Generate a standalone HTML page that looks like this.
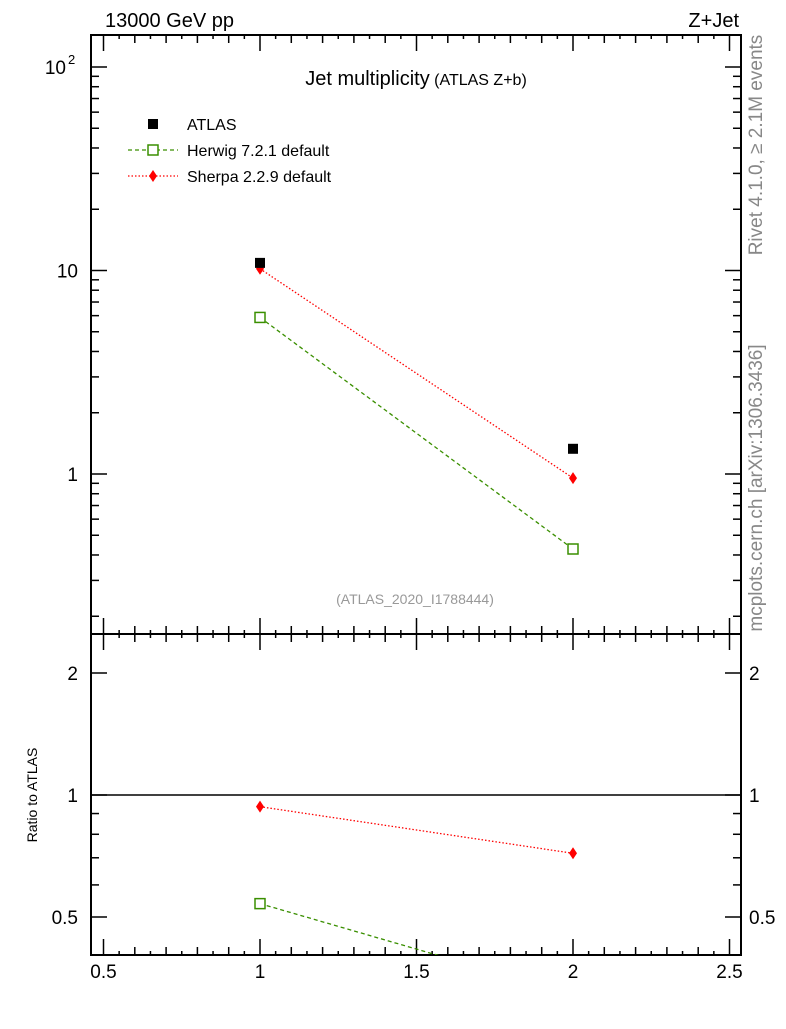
<!DOCTYPE html>
<html><head><meta charset="utf-8"><style>
body{margin:0;background:#fff}
svg text{font-family:"Liberation Sans",sans-serif}
</style></head><body>
<svg id="c" width="786" height="1024" xmlns="http://www.w3.org/2000/svg"></svg>
<script>
const categories=[1,2];
const atlasValues=[10.9,1.33];
const herwigValues=[5.88,0.428];
const sherpaValues=[10.2,0.955];
const xTickLabels=["0.5","1","1.5","2","2.5"];
const yMainTickLabels=["1","10"];
const yRatioTickLabels=["0.5","1","2"];

const NS="http://www.w3.org/2000/svg";
const svg=document.getElementById('c');
const L=91,R=741,T=35,M=634,B=955;
const X=v=>260+(v-1)*313;
const Y=v=>474-Math.log10(v)*203.5;
const YR=v=>795-Math.log2(v)*122;
function el(tag,a,parent){const e=document.createElementNS(NS,tag);for(const k in a)e.setAttribute(k,a[k]);(parent||svg).appendChild(e);return e;}
function txt(s,a){const t=el('text',a);t.textContent=s;return t;}

const defs=el('defs',{});
const c1=el('clipPath',{id:'cm'},defs);el('rect',{x:L,y:T,width:R-L,height:M-T},c1);
const c2=el('clipPath',{id:'cr'},defs);el('rect',{x:L,y:M,width:R-L,height:B-M},c2);

let f=el('rect',{x:L,y:T,width:R-L,height:M-T,fill:'none',stroke:'#000','stroke-width':2});


f=el('rect',{x:L,y:M,width:R-L,height:B-M,fill:'none',stroke:'#000','stroke-width':2});



for(let i=0;i<=40;i++){const v=0.5+i*0.05;const x=X(v);if(x<L||x>R)continue;
 const len=(i%10==0)?16:(i%2==0?8:4);
 for(const [y,d] of [[M,-1],[T,1],[M,1],[B,-1]]){el('line',{x1:x,x2:x,y1:y,y2:y+d*len,stroke:'#000','stroke-width':1.5});}
}
xTickLabels.forEach(s=>{const t=txt(s,{x:X(parseFloat(s)),y:978,'font-size':19,'text-anchor':'middle'});
 });

for(let e=-1;e<=2;e++)for(let m=1;m<=9;m++){const v=m*Math.pow(10,e);const y=Y(v);if(y<T||y>M)continue;
 const len=m==1?16:8;
 el('line',{x1:L,x2:L+len,y1:y,y2:y,stroke:'#000','stroke-width':1.5});
 el('line',{x1:R,x2:R-len,y1:y,y2:y,stroke:'#000','stroke-width':1.5});}
yMainTickLabels.forEach(s=>{const t=txt(s,{x:78,y:Y(parseFloat(s))+7,'font-size':19,'text-anchor':'end'});
 });
let t=txt('10',{x:66,y:Y(100)+7,'font-size':19,'text-anchor':'end'});

txt('2',{x:68,y:Y(100)-3,'font-size':13,'text-anchor':'start'});

for(let e=-1;e<=0;e++)for(let m=1;m<=9;m++){const v=m*Math.pow(10,e);const y=YR(v);if(y<M||y>B)continue;
 const len=(v==0.5||v==1||v==2)?16:8;
 el('line',{x1:L,x2:L+len,y1:y,y2:y,stroke:'#000','stroke-width':1.5});
 el('line',{x1:R,x2:R-len,y1:y,y2:y,stroke:'#000','stroke-width':1.5});}
yRatioTickLabels.forEach(s=>{const y=YR(parseFloat(s))+7;
 let a=txt(s,{x:78,y:y,'font-size':19,'text-anchor':'end'});
 
 a=txt(s,{x:749,y:y,'font-size':19,'text-anchor':'start'});
 });
el('line',{x1:L,x2:R,y1:YR(1),y2:YR(1),stroke:'#000','stroke-width':1.5});

t=txt('13000 GeV pp',{x:105,y:27,'font-size':20});
t=txt('Z+Jet',{x:739,y:27,'font-size':20,'text-anchor':'end'});
t=el('text',{x:416,y:85,'text-anchor':'middle'});t.innerHTML='<tspan font-size="20">Jet multiplicity</tspan><tspan font-size="16"> (ATLAS Z+b)</tspan>';

t=txt('(ATLAS_2020_I1788444)',{x:415,y:604,'font-size':14,fill:'#999','text-anchor':'middle'});
t=txt('Ratio to ATLAS',{x:0,y:0,'font-size':14,'text-anchor':'middle',transform:'translate(37,795) rotate(-90)'});
t=txt('Rivet 4.1.0, ≥ 2.1M events',{x:0,y:0,'font-size':19,fill:'#888','text-anchor':'middle',transform:'translate(762,145) rotate(-90)'});
t=txt('mcplots.cern.ch [arXiv:1306.3436]',{x:0,y:0,'font-size':19,fill:'#888','text-anchor':'middle',transform:'translate(762,488) rotate(-90)'});

let g=el('g',{});
el('rect',{x:148,y:119,width:10,height:10,fill:'#000'},g);
let lt=el('text',{x:187,y:130,'font-size':16},g);lt.textContent='ATLAS';
g=el('g',{});
el('line',{x1:128,x2:178,y1:150,y2:150,stroke:'#3a8f00','stroke-width':1.3,'stroke-dasharray':'4,3'},g);
el('rect',{x:148,y:145,width:10,height:10,fill:'#fff',stroke:'#3a8f00','stroke-width':1.5},g);
lt=el('text',{x:187,y:156,'font-size':16},g);lt.textContent='Herwig 7.2.1 default';
g=el('g',{});
el('line',{x1:128,x2:178,y1:176,y2:176,stroke:'#f00','stroke-width':1.3,'stroke-dasharray':'1.5,2'},g);
el('path',{d:'M153,170 L157,176 L153,182 L149,176Z',fill:'#f00'},g);
lt=el('text',{x:187,y:182,'font-size':16},g);lt.textContent='Sherpa 2.2.9 default';

function series(vals,yf,clip,color,dash,marker,name){
 const gg=el('g',{'clip-path':'url(#'+clip+')'});
 
 
 if(dash!==null){el('polyline',{points:categories.map((c,i)=>X(c)+','+yf(vals[i])).join(' '),fill:'none',stroke:color,'stroke-width':1.3,'stroke-dasharray':dash},gg);}
 categories.forEach((c,i)=>{const x=X(c),y=yf(vals[i]);let m;
  if(marker=='sq')m=el('rect',{x:x-5,y:y-5,width:10,height:10,fill:'#000'},gg);
  else if(marker=='osq')m=el('rect',{x:x-5,y:y-5,width:10,height:10,fill:'#fff',stroke:color,'stroke-width':1.5},gg);
  else m=el('path',{d:`M${x},${y-6} L${x+4},${y} L${x},${y+6} L${x-4},${y}Z`,fill:color},gg);
  
  });
}
series(herwigValues,Y,'cm','#3a8f00','4,3','osq','herwig-series');
series(sherpaValues,Y,'cm','#f00','1.5,2','dia','sherpa-series');
series(atlasValues,Y,'cm','#000',null,'sq','atlas-series');
series(herwigValues.map((v,i)=>v/atlasValues[i]),YR,'cr','#3a8f00','4,3','osq','herwig-ratio');
series(sherpaValues.map((v,i)=>v/atlasValues[i]),YR,'cr','#f00','1.5,2','dia','sherpa-ratio');
</script>
</body></html>
